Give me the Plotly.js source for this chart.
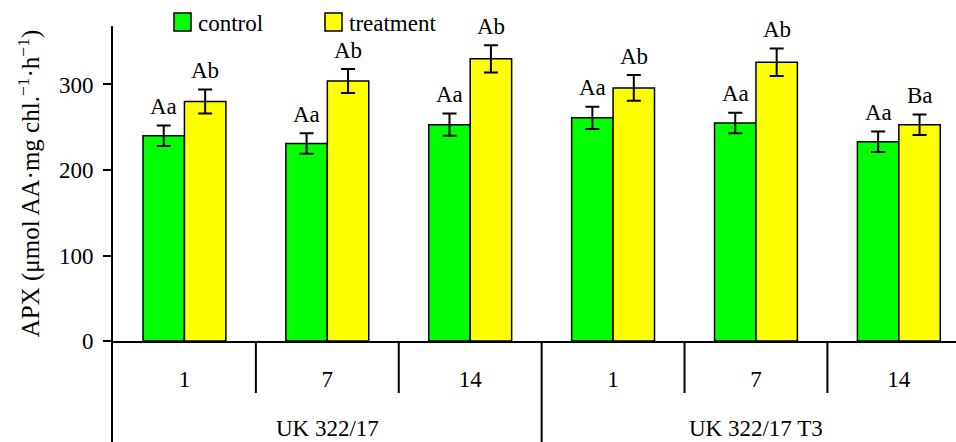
<!DOCTYPE html>
<html>
<head>
<meta charset="utf-8">
<script src="https://cdn.plot.ly/plotly-3.0.1.min.js"></script>
<style>html,body{margin:0;padding:0;background:#fff;}#chart{width:956px;height:442px;}</style>
</head>
<body>
<div id="chart"></div>
<script>
// ---- data ----
const categories = ['1', '7', '14', '1', '7', '14'];
const groups = ['UK 322/17', 'UK 322/17 T3'];
const groupCenters = [1, 4];
const control = [240, 231, 253, 261, 255, 233];
const controlErr = [12, 12, 13, 13, 12, 12];
const treatment = [280, 304, 330, 296, 326, 253];
const treatmentErr = [14, 14, 16, 15, 16, 12];
const controlLabels = ['Aa', 'Aa', 'Aa', 'Aa', 'Aa', 'Aa'];
const treatmentLabels = ['Ab', 'Ab', 'Ab', 'Ab', 'Ab', 'Ba'];
const seriesNames = ['control', 'treatment'];

// ---- layout constants ----
const W = 956, H = 442;
const L = 113, R = 0, T = 26, B = 101;
const PW = W - L - R, PH = H - T - B;
const px2x = px => (px - L) / PW;           // pixel -> paper x
const py2y = py => (H - B - py) / PH;       // pixel -> paper y
const FONT = 'Liberation Serif, Times New Roman, serif';
const GREEN = '#00ff00', YELLOW = '#ffff00';
const bargap = 0.42;
const half = (1 - bargap) / 4;              // offset of each bar centre from category centre

const xIdx = categories.map((_, i) => i);

const traces = [
  {
    type: 'bar', name: seriesNames[0], x: xIdx, y: control,
    marker: {color: GREEN, line: {color: '#000', width: 1.5}},
    error_y: {type: 'data', array: controlErr, visible: true, color: '#000', thickness: 2, width: 7},
    showlegend: false, hoverinfo: 'none'
  },
  {
    type: 'bar', name: seriesNames[1], x: xIdx, y: treatment,
    marker: {color: YELLOW, line: {color: '#000', width: 1.5}},
    error_y: {type: 'data', array: treatmentErr, visible: true, color: '#000', thickness: 2, width: 7},
    showlegend: false, hoverinfo: 'none'
  }
];

const annotations = [];
xIdx.forEach(i => {
  annotations.push({x: i - half, y: control[i] + controlErr[i], xref: 'x', yref: 'y',
    text: controlLabels[i], showarrow: false, yanchor: 'middle', yshift: 19,
    font: {family: FONT, size: 23, color: '#000'}});
  annotations.push({x: i + half, y: treatment[i] + treatmentErr[i], xref: 'x', yref: 'y',
    text: treatmentLabels[i], showarrow: false, yanchor: 'middle', yshift: 19,
    font: {family: FONT, size: 23, color: '#000'}});
});
groups.forEach((g, k) => {
  annotations.push({x: groupCenters[k], y: py2y(429), xref: 'x', yref: 'paper',
    text: g, showarrow: false, yanchor: 'middle', xanchor: 'center',
    font: {family: FONT, size: 23, color: '#000'}});
});

// legend (drawn manually)
const legendItems = [
  {name: seriesNames[0], color: GREEN, x0: 174, x1: 191, tx: 196},
  {name: seriesNames[1], color: YELLOW, x0: 325, x1: 342, tx: 347}
];
const shapes = [];
legendItems.forEach(it => {
  shapes.push({type: 'rect', xref: 'paper', yref: 'paper',
    x0: px2x(it.x0), x1: px2x(it.x1), y0: py2y(31), y1: py2y(13),
    fillcolor: it.color, line: {color: '#000', width: 1.5}});
  annotations.push({x: px2x(it.tx), y: py2y(23.5), xref: 'paper', yref: 'paper',
    text: it.name, showarrow: false, xanchor: 'left', yanchor: 'middle',
    font: {family: FONT, size: 23, color: '#000'}});
});

// category boundary lines below the axis
for (let b = 0; b < categories.length - 1; b++) {
  const xb = b + 0.5;
  const isGroup = (b === 2);
  shapes.push({type: 'line', xref: 'x', yref: 'paper', x0: xb, x1: xb,
    y0: py2y(342), y1: isGroup ? py2y(450) : py2y(393),
    line: {color: '#000', width: 2}});
}
// left divider (continuation of the y axis)
shapes.push({type: 'line', xref: 'paper', yref: 'paper', x0: px2x(112), x1: px2x(112),
  y0: py2y(342), y1: py2y(450), line: {color: '#000', width: 2}});

const layout = {
  width: W, height: H,
  margin: {l: L, r: R, t: T, b: B, pad: 0},
  paper_bgcolor: '#fff', plot_bgcolor: '#fff',
  barmode: 'group', bargap: bargap, bargroupgap: 0,
  showlegend: false,
  font: {family: FONT, size: 23, color: '#000'},
  xaxis: {
    range: [-0.5, 5.4], tickmode: 'array', tickvals: xIdx, ticktext: categories,
    ticks: '', showline: true, linecolor: '#000', linewidth: 2,
    showgrid: false, zeroline: false, ticklabelstandoff: 16,
    tickfont: {family: FONT, size: 23, color: '#000'}, fixedrange: true
  },
  yaxis: {
    range: [0, 368.4], tickmode: 'linear', tick0: 0, dtick: 100,
    ticks: 'outside', ticklen: 8, tickwidth: 2, tickcolor: '#000',
    showline: true, linecolor: '#000', linewidth: 2,
    showgrid: false, zeroline: false, ticklabelstandoff: 5,
    tickfont: {family: FONT, size: 23, color: '#000'},
    title: {text: 'APX (μmol AA·mg chl.<sup>−1</sup>·h<sup>−1</sup>)', standoff: 12,
      font: {family: FONT, size: 25, color: '#000'}},
    fixedrange: true
  },
  shapes: shapes,
  annotations: annotations
};

Plotly.newPlot('chart', traces, layout, {displayModeBar: false, staticPlot: true});
</script>
</body>
</html>
